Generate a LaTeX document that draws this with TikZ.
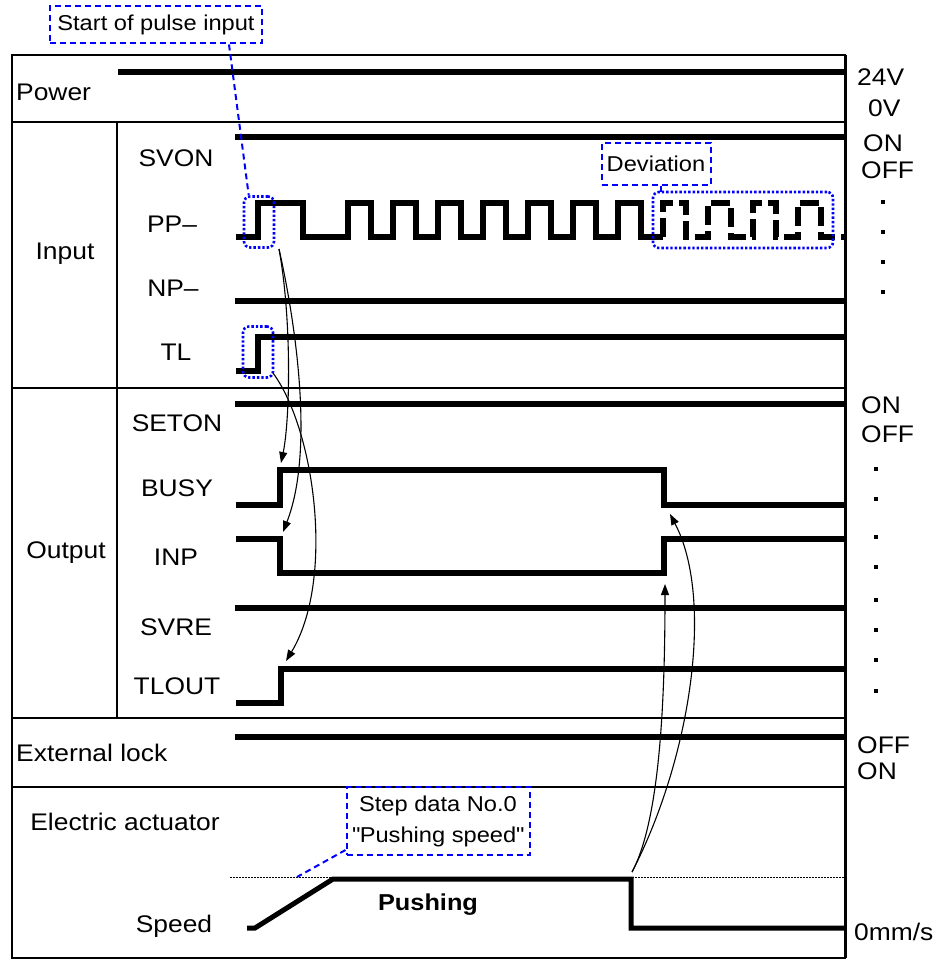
\documentclass[tikz,border=0pt]{standalone}
\usepackage{fontspec}
\setmainfont{Liberation Sans}[FakeStretch=1.1]
\usetikzlibrary{arrows.meta}
\definecolor{noteblue}{HTML}{0000FF}
\tikzset{
  chart line/.style={draw=black,line width=1.6pt},
  signal/.style={draw=black,line width=6pt,line join=miter},
  lost signal/.style={signal,dash pattern=on 19pt off 6pt},
  speed line/.style={draw=black,line width=5pt,line join=miter},
  ref line/.style={draw=black,line width=0.6pt,dash pattern=on 2pt off 1pt},
  cause/.style={draw=black,line width=1.1pt,-{Triangle[length=11pt,width=8pt]}},
  note/.style={draw=noteblue,line width=2pt,dash pattern=on 6pt off 4pt,
    inner sep=0pt,align=center,font=\fontsize{21.5}{31}\selectfont},
  leader/.style={draw=noteblue,line width=2pt,dash pattern=on 6pt off 4pt},
  focus/.style={draw=noteblue,line width=2.6pt,dash pattern=on 2.4pt off 2pt,
    rounded corners=6pt,inner sep=0pt},
  sig name/.style={font=\fontsize{24}{28}\selectfont,inner sep=0pt},
  state text/.style={sig name,anchor=west},
  tick dot/.style={fill=black,minimum size=4pt,inner sep=0pt}
}

\begin{document}
\begin{tikzpicture}[x=1pt,y=-1pt]
  \useasboundingbox (0,0) rectangle (936,960);

  % chart frame
  \draw[chart line] (12,55) rectangle (845,958);
  \draw[line width=3pt] (845,55) -- (845,958);
  \foreach \y in {122,388,718,787}
    \draw[chart line] (12,\y) -- (845,\y);
  \draw[chart line] (117,122) -- (117,718);

  % group and signal names
  \node[sig name,anchor=west] (power) at (16,92) {Power};
  \node[sig name] (input) at (65,254) {Input};
  \node[sig name] (output) at (66,553) {Output};
  \node[sig name,anchor=west] (extlock) at (16,753) {External lock};
  \node[sig name] (actuator) at (125,822) {Electric actuator};
  \node[sig name] (speed) at (174,926) {Speed};
  \node[sig name] (svon) at (176,158) {SVON};
  \node[sig name] (pp) at (172,224) {PP–};
  \node[sig name] (np) at (173,288) {NP–};
  \node[sig name] (tl) at (176,352) {TL};
  \node[sig name] (seton) at (177,423) {SETON};
  \node[sig name] (busy) at (177,488) {BUSY};
  \node[sig name] (inp) at (176,557) {INP};
  \node[sig name] (svre) at (176,627) {SVRE};
  \node[sig name] (tlout) at (177,686) {TLOUT};

  % levels on the right
  \node[state text] (v24) at (857,77) {24V};
  \node[state text] (v0) at (868,108) {0V};
  \node[state text] (svon-on) at (863,143) {ON};
  \node[state text] (svon-off) at (861,170) {OFF};
  \node[state text] (seton-on) at (861,405) {ON};
  \node[state text] (seton-off) at (861,434) {OFF};
  \node[state text] (lock-off) at (857,745) {OFF};
  \node[state text] (lock-on) at (857,771) {ON};
  \node[state text] (zero) at (854,932) {0mm/s};
  \foreach \y [count=\i] in {202,232,262,292}
    \node[tick dot] (in-dot-\i) at (883,\y) {};
  \foreach \y [count=\i] in {469,499,537,567,600,630,660,691}
    \node[tick dot] (out-dot-\i) at (876,\y) {};

  % steady signals
  \draw[signal] (118,72) -- (845,72);
  \foreach \y in {137,301,404,608,737}
    \draw[signal] (235,\y) -- (845,\y);

  % pulse train
  \draw[signal] (236,237) -- (258,237) -- (258,203) -- (303,203) -- (303,237)
    foreach \x in {348,393,...,618} { -- (\x,237) -- (\x,203) -- (\x+23,203) -- (\x+23,237) }
    -- (663,237);
  \draw[lost signal] (663,237)
    foreach \x in {663,708,753,798} { -- (\x,237) -- (\x,203) -- (\x+23,203) -- (\x+23,237) }
    -- (845,237);

  % switching signals
  \draw[signal] (236,371) -- (258,371) -- (258,337) -- (845,337);
  \draw[signal] (236,505) -- (280,505) -- (280,470) -- (664,470) -- (664,505) -- (845,505);
  \draw[signal] (236,539) -- (280,539) -- (280,573) -- (664,573) -- (664,539) -- (845,539);
  \draw[signal] (236,703) -- (281,703) -- (281,669) -- (845,669);

  % speed
  \draw[ref line] (230,877) -- (845,877);
  \draw[speed line] (247,928) -- (255,928) -- (333,879) -- (631,879) -- (631,928) -- (845,928);
  \node[font=\bfseries\fontsize{23}{27}\selectfont,inner sep=0pt] (pushing) at (428,905) {Pushing};

  % marked edges and notes
  \node[focus,minimum width=30pt,minimum height=51pt] (pp-mark) at (259,222) {};
  \node[focus,minimum width=30pt,minimum height=51pt] (tl-mark) at (258,352) {};
  \node[focus,minimum width=180pt,minimum height=56pt] (dev-mark) at (743,220) {};
  \node[note,minimum width=212pt,minimum height=37pt] (start-note) at (156,25) {Start of pulse input};
  \node[note,minimum width=109pt,minimum height=41pt] (dev-note) at (656,164) {Deviation};
  \node[note,minimum width=183pt,minimum height=68pt] (step-note) at (438,821)
    {Step data No.0\\\textquotedbl Pushing speed\textquotedbl};
  \coordinate (dev-tick) at (661,193);
  \coordinate (push-ref) at (297,877);
  \draw[leader] ([xshift=-34pt]start-note.south east) -- ([xshift=6pt]pp-mark.north west);
  \draw[leader] (dev-tick |- dev-note.south) -- (dev-tick);
  \draw[leader] ([yshift=6pt]step-note.south west) -- (push-ref);

  % cause and effect
  \coordinate (pp-go) at (279,249);
  \coordinate (tl-go) at (273,373);
  \coordinate (busy-on) at (281,463);
  \coordinate (inp-off) at (283,532);
  \coordinate (tlout-on) at (286,661);
  \coordinate (push-end) at (632,872);
  \coordinate (inp-on) at (665,584);
  \coordinate (busy-off) at (670,514);
  \draw[cause] (pp-go) .. controls (292,320) and (290,420) .. (busy-on);
  \draw[cause] (pp-go) .. controls (295,320) and (315,450) .. (inp-off);
  \draw[cause] (tl-go) .. controls (315,430) and (335,580) .. (tlout-on);
  \draw[cause] (push-end) .. controls (660,820) and (665,700) .. (inp-on);
  \draw[cause] (push-end) .. controls (690,760) and (715,600) .. (busy-off);
\end{tikzpicture}
\end{document}
